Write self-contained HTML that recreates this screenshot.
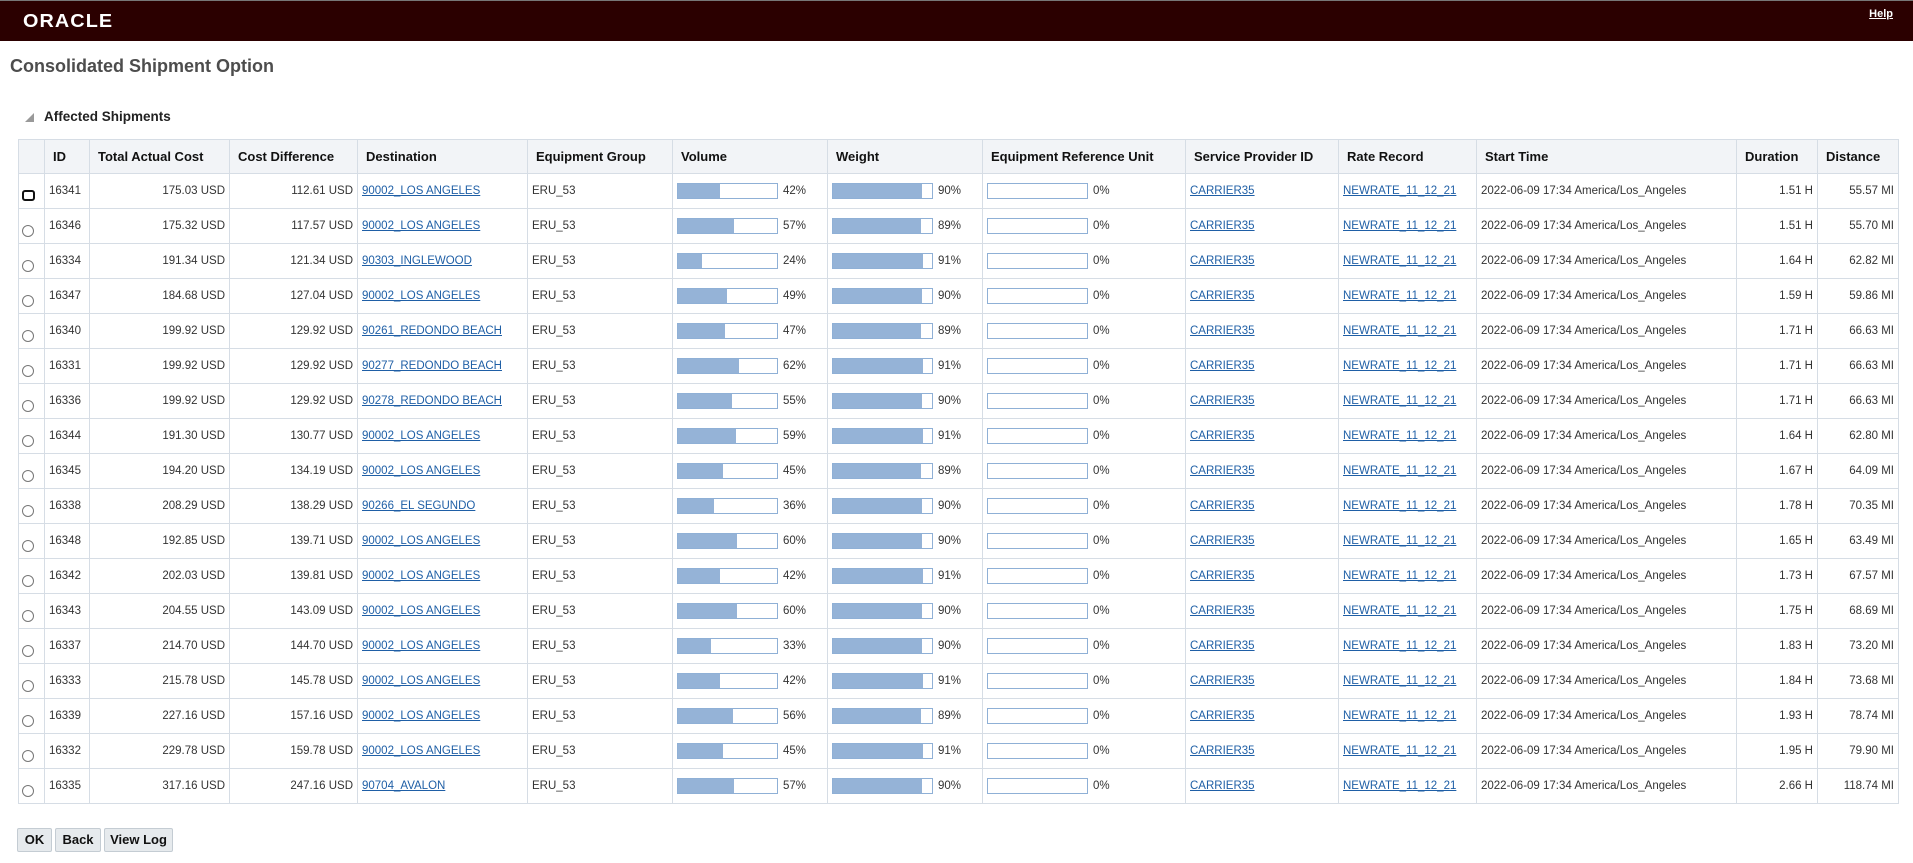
<!DOCTYPE html>
<html><head><meta charset="utf-8"><style>
*{box-sizing:border-box}
body{margin:0;width:1913px;height:863px;overflow:hidden;background:#fff;font-family:"Liberation Sans",Arial,sans-serif;color:#333}
.top{position:absolute;left:0;top:0;width:1913px;height:41px;background:#2b0000;border-top:1px solid #777}
.logo{position:absolute;left:23px;top:10px;color:#fff;font-size:18px;letter-spacing:1px;font-weight:bold;transform:scaleX(1.1);transform-origin:left}
.help{position:absolute;right:20px;top:7px;color:#fff;font-size:11px;font-weight:bold;text-decoration:underline}
h1{position:absolute;left:10px;top:56px;margin:0;font-size:18px;font-weight:bold;color:#4d4d4d}
.sec{position:absolute;left:44px;top:109px;font-size:13.5px;font-weight:bold;color:#222}
.tri{position:absolute;left:25px;top:113px;width:0;height:0;border-left:9px solid transparent;border-bottom:9px solid #999}
table{position:absolute;left:18px;top:139px;border-collapse:collapse;table-layout:fixed;width:1881px}
td,th{border:1px solid #d6dde5;padding:0 4px;font-size:11.5px;white-space:nowrap;overflow:hidden}
th{height:34px;background:#f2f4f7;text-align:left;font-weight:bold;font-size:13px;color:#111;padding-left:8px}
td{height:35px;vertical-align:middle}
td.r{text-align:right}
a{color:#1f5fa6;text-decoration:underline}
.bar{display:inline-block;width:101px;height:16px;border:1px solid #8fb0d6;vertical-align:middle;background:#fff;position:relative;margin-right:5px}
.bar i{position:absolute;left:0;top:0;bottom:0;background:#95b3d7}
.rad{display:inline-block;width:12px;height:12px;border:1px solid #777;border-radius:50%;margin-top:16px}
.sq{display:inline-block;width:13px;height:11px;border:2px solid #111;border-radius:3px;margin-top:16px}
td.c0{padding:0 0 0 3px;vertical-align:top}
.btn{position:absolute;top:828px;height:24px;border:1px solid #c4ccd3;background:#e6eaed;font-size:13px;font-weight:bold;color:#111;text-align:center;line-height:22px;border-radius:2px}
</style></head><body>
<div class="top"><div class="logo">ORACLE</div><div class="help">Help</div></div>
<h1>Consolidated Shipment Option</h1>
<div class="tri"></div><div class="sec">Affected Shipments</div>
<table>
<colgroup><col style="width:26px"><col style="width:45px"><col style="width:140px"><col style="width:128px"><col style="width:170px"><col style="width:145px"><col style="width:155px"><col style="width:155px"><col style="width:203px"><col style="width:153px"><col style="width:138px"><col style="width:260px"><col style="width:81px"><col style="width:81px"></colgroup>
<tr><th></th><th>ID</th><th>Total Actual Cost</th><th>Cost Difference</th><th>Destination</th><th>Equipment Group</th><th>Volume</th><th>Weight</th><th>Equipment Reference Unit</th><th>Service Provider ID</th><th>Rate Record</th><th>Start Time</th><th>Duration</th><th>Distance</th></tr>
<tr><td class="c0"><span class="sq"></span></td><td>16341</td><td class="r">175.03 USD</td><td class="r">112.61 USD</td><td><a>90002_LOS ANGELES</a></td><td>ERU_53</td><td><span class="bar"><i style="width:42%"></i></span>42%</td><td><span class="bar"><i style="width:90%"></i></span>90%</td><td><span class="bar"></span>0%</td><td><a>CARRIER35</a></td><td><a>NEWRATE_11_12_21</a></td><td>2022-06-09 17:34 America/Los_Angeles</td><td class="r">1.51 H</td><td class="r">55.57 MI</td></tr>
<tr><td class="c0"><span class="rad"></span></td><td>16346</td><td class="r">175.32 USD</td><td class="r">117.57 USD</td><td><a>90002_LOS ANGELES</a></td><td>ERU_53</td><td><span class="bar"><i style="width:57%"></i></span>57%</td><td><span class="bar"><i style="width:89%"></i></span>89%</td><td><span class="bar"></span>0%</td><td><a>CARRIER35</a></td><td><a>NEWRATE_11_12_21</a></td><td>2022-06-09 17:34 America/Los_Angeles</td><td class="r">1.51 H</td><td class="r">55.70 MI</td></tr>
<tr><td class="c0"><span class="rad"></span></td><td>16334</td><td class="r">191.34 USD</td><td class="r">121.34 USD</td><td><a>90303_INGLEWOOD</a></td><td>ERU_53</td><td><span class="bar"><i style="width:24%"></i></span>24%</td><td><span class="bar"><i style="width:91%"></i></span>91%</td><td><span class="bar"></span>0%</td><td><a>CARRIER35</a></td><td><a>NEWRATE_11_12_21</a></td><td>2022-06-09 17:34 America/Los_Angeles</td><td class="r">1.64 H</td><td class="r">62.82 MI</td></tr>
<tr><td class="c0"><span class="rad"></span></td><td>16347</td><td class="r">184.68 USD</td><td class="r">127.04 USD</td><td><a>90002_LOS ANGELES</a></td><td>ERU_53</td><td><span class="bar"><i style="width:49%"></i></span>49%</td><td><span class="bar"><i style="width:90%"></i></span>90%</td><td><span class="bar"></span>0%</td><td><a>CARRIER35</a></td><td><a>NEWRATE_11_12_21</a></td><td>2022-06-09 17:34 America/Los_Angeles</td><td class="r">1.59 H</td><td class="r">59.86 MI</td></tr>
<tr><td class="c0"><span class="rad"></span></td><td>16340</td><td class="r">199.92 USD</td><td class="r">129.92 USD</td><td><a>90261_REDONDO BEACH</a></td><td>ERU_53</td><td><span class="bar"><i style="width:47%"></i></span>47%</td><td><span class="bar"><i style="width:89%"></i></span>89%</td><td><span class="bar"></span>0%</td><td><a>CARRIER35</a></td><td><a>NEWRATE_11_12_21</a></td><td>2022-06-09 17:34 America/Los_Angeles</td><td class="r">1.71 H</td><td class="r">66.63 MI</td></tr>
<tr><td class="c0"><span class="rad"></span></td><td>16331</td><td class="r">199.92 USD</td><td class="r">129.92 USD</td><td><a>90277_REDONDO BEACH</a></td><td>ERU_53</td><td><span class="bar"><i style="width:62%"></i></span>62%</td><td><span class="bar"><i style="width:91%"></i></span>91%</td><td><span class="bar"></span>0%</td><td><a>CARRIER35</a></td><td><a>NEWRATE_11_12_21</a></td><td>2022-06-09 17:34 America/Los_Angeles</td><td class="r">1.71 H</td><td class="r">66.63 MI</td></tr>
<tr><td class="c0"><span class="rad"></span></td><td>16336</td><td class="r">199.92 USD</td><td class="r">129.92 USD</td><td><a>90278_REDONDO BEACH</a></td><td>ERU_53</td><td><span class="bar"><i style="width:55%"></i></span>55%</td><td><span class="bar"><i style="width:90%"></i></span>90%</td><td><span class="bar"></span>0%</td><td><a>CARRIER35</a></td><td><a>NEWRATE_11_12_21</a></td><td>2022-06-09 17:34 America/Los_Angeles</td><td class="r">1.71 H</td><td class="r">66.63 MI</td></tr>
<tr><td class="c0"><span class="rad"></span></td><td>16344</td><td class="r">191.30 USD</td><td class="r">130.77 USD</td><td><a>90002_LOS ANGELES</a></td><td>ERU_53</td><td><span class="bar"><i style="width:59%"></i></span>59%</td><td><span class="bar"><i style="width:91%"></i></span>91%</td><td><span class="bar"></span>0%</td><td><a>CARRIER35</a></td><td><a>NEWRATE_11_12_21</a></td><td>2022-06-09 17:34 America/Los_Angeles</td><td class="r">1.64 H</td><td class="r">62.80 MI</td></tr>
<tr><td class="c0"><span class="rad"></span></td><td>16345</td><td class="r">194.20 USD</td><td class="r">134.19 USD</td><td><a>90002_LOS ANGELES</a></td><td>ERU_53</td><td><span class="bar"><i style="width:45%"></i></span>45%</td><td><span class="bar"><i style="width:89%"></i></span>89%</td><td><span class="bar"></span>0%</td><td><a>CARRIER35</a></td><td><a>NEWRATE_11_12_21</a></td><td>2022-06-09 17:34 America/Los_Angeles</td><td class="r">1.67 H</td><td class="r">64.09 MI</td></tr>
<tr><td class="c0"><span class="rad"></span></td><td>16338</td><td class="r">208.29 USD</td><td class="r">138.29 USD</td><td><a>90266_EL SEGUNDO</a></td><td>ERU_53</td><td><span class="bar"><i style="width:36%"></i></span>36%</td><td><span class="bar"><i style="width:90%"></i></span>90%</td><td><span class="bar"></span>0%</td><td><a>CARRIER35</a></td><td><a>NEWRATE_11_12_21</a></td><td>2022-06-09 17:34 America/Los_Angeles</td><td class="r">1.78 H</td><td class="r">70.35 MI</td></tr>
<tr><td class="c0"><span class="rad"></span></td><td>16348</td><td class="r">192.85 USD</td><td class="r">139.71 USD</td><td><a>90002_LOS ANGELES</a></td><td>ERU_53</td><td><span class="bar"><i style="width:60%"></i></span>60%</td><td><span class="bar"><i style="width:90%"></i></span>90%</td><td><span class="bar"></span>0%</td><td><a>CARRIER35</a></td><td><a>NEWRATE_11_12_21</a></td><td>2022-06-09 17:34 America/Los_Angeles</td><td class="r">1.65 H</td><td class="r">63.49 MI</td></tr>
<tr><td class="c0"><span class="rad"></span></td><td>16342</td><td class="r">202.03 USD</td><td class="r">139.81 USD</td><td><a>90002_LOS ANGELES</a></td><td>ERU_53</td><td><span class="bar"><i style="width:42%"></i></span>42%</td><td><span class="bar"><i style="width:91%"></i></span>91%</td><td><span class="bar"></span>0%</td><td><a>CARRIER35</a></td><td><a>NEWRATE_11_12_21</a></td><td>2022-06-09 17:34 America/Los_Angeles</td><td class="r">1.73 H</td><td class="r">67.57 MI</td></tr>
<tr><td class="c0"><span class="rad"></span></td><td>16343</td><td class="r">204.55 USD</td><td class="r">143.09 USD</td><td><a>90002_LOS ANGELES</a></td><td>ERU_53</td><td><span class="bar"><i style="width:60%"></i></span>60%</td><td><span class="bar"><i style="width:90%"></i></span>90%</td><td><span class="bar"></span>0%</td><td><a>CARRIER35</a></td><td><a>NEWRATE_11_12_21</a></td><td>2022-06-09 17:34 America/Los_Angeles</td><td class="r">1.75 H</td><td class="r">68.69 MI</td></tr>
<tr><td class="c0"><span class="rad"></span></td><td>16337</td><td class="r">214.70 USD</td><td class="r">144.70 USD</td><td><a>90002_LOS ANGELES</a></td><td>ERU_53</td><td><span class="bar"><i style="width:33%"></i></span>33%</td><td><span class="bar"><i style="width:90%"></i></span>90%</td><td><span class="bar"></span>0%</td><td><a>CARRIER35</a></td><td><a>NEWRATE_11_12_21</a></td><td>2022-06-09 17:34 America/Los_Angeles</td><td class="r">1.83 H</td><td class="r">73.20 MI</td></tr>
<tr><td class="c0"><span class="rad"></span></td><td>16333</td><td class="r">215.78 USD</td><td class="r">145.78 USD</td><td><a>90002_LOS ANGELES</a></td><td>ERU_53</td><td><span class="bar"><i style="width:42%"></i></span>42%</td><td><span class="bar"><i style="width:91%"></i></span>91%</td><td><span class="bar"></span>0%</td><td><a>CARRIER35</a></td><td><a>NEWRATE_11_12_21</a></td><td>2022-06-09 17:34 America/Los_Angeles</td><td class="r">1.84 H</td><td class="r">73.68 MI</td></tr>
<tr><td class="c0"><span class="rad"></span></td><td>16339</td><td class="r">227.16 USD</td><td class="r">157.16 USD</td><td><a>90002_LOS ANGELES</a></td><td>ERU_53</td><td><span class="bar"><i style="width:56%"></i></span>56%</td><td><span class="bar"><i style="width:89%"></i></span>89%</td><td><span class="bar"></span>0%</td><td><a>CARRIER35</a></td><td><a>NEWRATE_11_12_21</a></td><td>2022-06-09 17:34 America/Los_Angeles</td><td class="r">1.93 H</td><td class="r">78.74 MI</td></tr>
<tr><td class="c0"><span class="rad"></span></td><td>16332</td><td class="r">229.78 USD</td><td class="r">159.78 USD</td><td><a>90002_LOS ANGELES</a></td><td>ERU_53</td><td><span class="bar"><i style="width:45%"></i></span>45%</td><td><span class="bar"><i style="width:91%"></i></span>91%</td><td><span class="bar"></span>0%</td><td><a>CARRIER35</a></td><td><a>NEWRATE_11_12_21</a></td><td>2022-06-09 17:34 America/Los_Angeles</td><td class="r">1.95 H</td><td class="r">79.90 MI</td></tr>
<tr><td class="c0"><span class="rad"></span></td><td>16335</td><td class="r">317.16 USD</td><td class="r">247.16 USD</td><td><a>90704_AVALON</a></td><td>ERU_53</td><td><span class="bar"><i style="width:57%"></i></span>57%</td><td><span class="bar"><i style="width:90%"></i></span>90%</td><td><span class="bar"></span>0%</td><td><a>CARRIER35</a></td><td><a>NEWRATE_11_12_21</a></td><td>2022-06-09 17:34 America/Los_Angeles</td><td class="r">2.66 H</td><td class="r">118.74 MI</td></tr>
</table>
<div class="btn" style="left:17px;width:35px">OK</div>
<div class="btn" style="left:55px;width:46px">Back</div>
<div class="btn" style="left:104px;width:69px">View Log</div>
</body></html>
